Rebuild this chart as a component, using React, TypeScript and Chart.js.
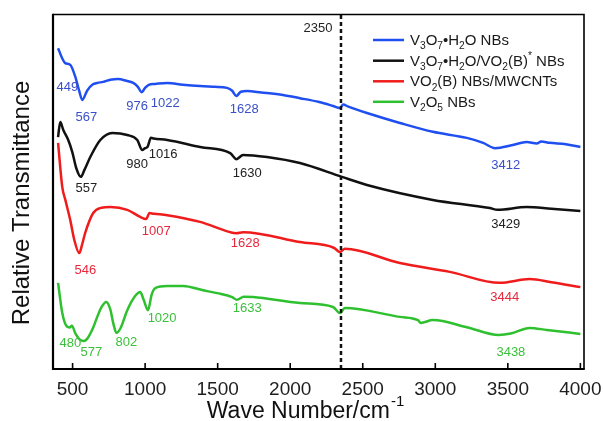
import React, { useEffect, useRef } from 'react';
import { Chart, registerables } from 'chart.js';

Chart.register(...registerables);

const FONT = '"Liberation Sans", Arial, Helvetica, sans-serif';

// Wavenumber axis (cm^-1)
const xTickValues = [500, 1000, 1500, 2000, 2500, 3000, 3500, 4000];
const xMin = 365;
const xMax = 4025;
const co2Band = 2350;

// Series colours: line and annotation text
const seriesColors = ['#1f4ff0', '#111111', '#f01c1c', '#2ec02e'];
const labelColors = ['#3a50c8', '#222222', '#e8283c', '#3cc03c'];

// Spectra as [wavenumber, relative transmittance (offset, a.u.)]
const v3o7Spectrum: [number, number][] = [
  [400, 90.5], [430, 87.5], [449, 86.3], [484, 85.8], [519, 82.4], [545, 78.5], [567, 75.9],
  [600, 78.5], [640, 80.3], [670, 80.7], [711, 81.0], [760, 81.6], [815, 81.8], [870, 81.3],
  [918, 80.7], [950, 79.6], [976, 78.1], [1000, 79.3], [1022, 80.1], [1070, 80.4], [1152, 80.7],
  [1260, 80.2], [1379, 79.8], [1480, 79.6], [1565, 79.3], [1600, 78.5], [1628, 77.0], [1660, 78.2],
  [1703, 78.4], [1800, 78.0], [1950, 77.3], [2067, 76.4], [2200, 75.3], [2295, 74.2], [2343, 73.6],
  [2365, 74.6], [2400, 74.0], [2529, 72.2], [2756, 69.4], [2983, 66.9], [3217, 65.2], [3330, 63.8],
  [3412, 62.3], [3534, 63.2], [3630, 64.0], [3700, 63.6], [3730, 64.2], [3788, 63.8], [3900, 63.4],
  [4000, 62.6],
];

const v3o7Vo2Spectrum: [number, number][] = [
  [400, 65.4], [415, 69.7], [436, 67.4], [470, 64.6], [498, 61.2], [525, 56.7], [557, 54.2],
  [581, 56.1], [622, 59.8], [691, 64.6], [773, 66.6], [877, 66.0], [946, 64.6], [980, 61.8],
  [1000, 62.3], [1016, 62.6], [1040, 65.2], [1060, 65.0], [1152, 64.6], [1379, 62.6], [1586, 60.9],
  [1630, 59.2], [1675, 60.4], [1840, 59.8], [2067, 58.1], [2356, 54.2], [2529, 51.9], [2983, 47.7],
  [3376, 45.4], [3429, 44.9], [3630, 45.7], [3800, 45.2], [4000, 44.6],
];

const vo2CntSpectrum: [number, number][] = [
  [400, 63.8], [429, 51.3], [450, 47.7], [484, 42.0], [512, 36.4], [546, 32.7], [565, 35.0],
  [587, 38.4], [642, 44.0], [700, 45.5], [760, 45.7], [877, 44.9], [966, 42.9], [1007, 42.3],
  [1030, 44.0], [1060, 43.8], [1152, 43.4], [1379, 41.5], [1586, 38.6], [1628, 38.3], [1675, 38.6],
  [2067, 35.8], [2300, 34.2], [2343, 33.0], [2377, 33.9], [2756, 29.9], [3100, 27.4], [3444, 24.3],
  [3651, 25.4], [3800, 24.5], [4000, 23.1],
];

const v2o5Spectrum: [number, number][] = [
  [400, 24.3], [429, 15.8], [460, 12.0], [480, 11.7], [495, 12.2], [520, 10.0], [550, 8.3],
  [577, 7.9], [600, 8.5], [640, 11.5], [670, 14.7], [700, 17.5], [732, 18.9], [760, 16.8],
  [780, 13.0], [802, 10.2], [830, 11.5], [877, 16.6], [930, 20.5], [966, 21.7], [990, 19.5],
  [1020, 16.6], [1045, 21.0], [1070, 22.8], [1152, 23.4], [1262, 23.4], [1400, 22.2], [1496, 21.4],
  [1600, 20.3], [1633, 19.5], [1680, 20.4], [1744, 20.3], [2067, 18.6], [2295, 17.5], [2343, 15.8],
  [2377, 17.2], [2756, 14.7], [2880, 13.8], [2900, 13.0], [2983, 13.8], [3217, 11.8], [3438, 9.6],
  [3520, 10.0], [3651, 11.6], [3768, 11.0], [4000, 9.9],
];

// Peak annotations: [text, wavenumber position, transmittance position]
const v3o7Peaks: [string, number, number][] = [
  ['449', 464, 79.5], ['567', 595, 71.1], ['976', 945, 74.2], ['1022', 1139, 74.8],
  ['1628', 1683, 73.3], ['3412', 3486, 57.3],
];
const v3o7Vo2Peaks: [string, number, number][] = [
  ['557', 595, 50.8], ['980', 945, 57.8], ['1016', 1124, 60.4], ['1630', 1704, 55.3],
  ['3429', 3486, 40.9],
];
const vo2CntPeaks: [string, number, number][] = [
  ['546', 588, 27.9], ['1007', 1077, 38.9], ['1628', 1690, 35.5], ['3444', 3479, 20.3],
];
const v2o5Peaks: [string, number, number][] = [
  ['480', 484, 7.1], ['577', 629, 4.8], ['802', 870, 7.6], ['1020', 1117, 14.4],
  ['1633', 1704, 17.2], ['3438', 3521, 4.8],
];

type Seg = [string, ('sub' | 'sup')?];

// Legend names with chemical subscripts
const legendNames: Seg[][] = [
  [['V'], ['3', 'sub'], ['O'], ['7', 'sub'], ['\u2022H'], ['2', 'sub'], ['O NBs']],
  [['V'], ['3', 'sub'], ['O'], ['7', 'sub'], ['\u2022H'], ['2', 'sub'], ['O/VO'], ['2', 'sub'], ['(B)'], ['*', 'sup'], [' NBs']],
  [['VO'], ['2', 'sub'], ['(B) NBs/MWCNTs']],
  [['V'], ['2', 'sub'], ['O'], ['5', 'sub'], [' NBs']],
];

const spectra = [v3o7Spectrum, v3o7Vo2Spectrum, vo2CntSpectrum, v2o5Spectrum];
const peakSets = [v3o7Peaks, v3o7Vo2Peaks, vo2CntPeaks, v2o5Peaks];

function drawRich(ctx: CanvasRenderingContext2D, segs: Seg[], x: number, baseline: number, size: number) {
  let cx = x;
  for (const [text, kind] of segs) {
    const s = kind ? size * 0.68 : size;
    const dy = kind === 'sub' ? size * 0.28 : kind === 'sup' ? -size * 0.42 : 0;
    ctx.font = `${s}px ${FONT}`;
    ctx.fillText(text, cx, baseline + dy);
    cx += ctx.measureText(text).width;
  }
}

const decorPlugin = {
  id: 'ftirDecor',
  afterDraw(chart: any) {
    const { ctx, chartArea, scales } = chart;
    const xs = scales.x;
    const ys = scales.y;
    const { left, right, top, bottom } = chartArea;
    ctx.save();

    // peak labels
    ctx.textAlign = 'center';
    ctx.textBaseline = 'middle';
    ctx.font = `13px ${FONT}`;
    peakSets.forEach((peaks, i) => {
      ctx.fillStyle = labelColors[i];
      for (const [t, wx, wy] of peaks) {
        ctx.fillText(t, xs.getPixelForValue(wx), ys.getPixelForValue(wy));
      }
    });
    ctx.fillStyle = '#222';
    ctx.fillText(String(co2Band), xs.getPixelForValue(2191), ys.getPixelForValue(96.2));

    // legend
    const lx0 = 373;
    const lx1 = 404;
    const rowY = [40, 60.7, 81.3, 101.8];
    legendNames.forEach((segs, i) => {
      ctx.strokeStyle = seriesColors[i];
      ctx.lineWidth = 2.5;
      ctx.beginPath();
      ctx.moveTo(lx0, rowY[i]);
      ctx.lineTo(lx1, rowY[i]);
      ctx.stroke();
      ctx.fillStyle = '#1a1a1a';
      ctx.textAlign = 'left';
      ctx.textBaseline = 'alphabetic';
      drawRich(ctx, segs, 410, rowY[i] + 5, 15);
    });

    // frame
    ctx.strokeStyle = '#000';
    ctx.lineWidth = 1.6;
    ctx.beginPath();
    ctx.moveTo(left, top);
    ctx.lineTo(right, top);
    ctx.lineTo(right, bottom);
    ctx.stroke();
    ctx.lineWidth = 2.2;
    ctx.beginPath();
    ctx.moveTo(left, top - 0.8);
    ctx.lineTo(left, bottom);
    ctx.lineTo(right + 0.8, bottom);
    ctx.stroke();

    // inward ticks on the wavenumber axis
    ctx.lineWidth = 1.6;
    for (const v of xTickValues) {
      const px = xs.getPixelForValue(v);
      ctx.beginPath();
      ctx.moveTo(px, bottom);
      ctx.lineTo(px, bottom - 6);
      ctx.stroke();
    }

    // axis titles
    ctx.fillStyle = '#111';
    ctx.textAlign = 'left';
    ctx.textBaseline = 'alphabetic';
    ctx.font = `23px ${FONT}`;
    const main = 'Wave Number/cm';
    const mw = ctx.measureText(main).width;
    ctx.font = `15px ${FONT}`;
    const sw = ctx.measureText('-1').width;
    const tx = 305 - (mw + sw) / 2;
    ctx.font = `23px ${FONT}`;
    ctx.fillText(main, tx, 418);
    ctx.font = `15px ${FONT}`;
    ctx.fillText('-1', tx + mw + 1, 406);

    ctx.save();
    ctx.translate(29, 203);
    ctx.rotate(-Math.PI / 2);
    ctx.textAlign = 'center';
    ctx.font = `24px ${FONT}`;
    ctx.fillText('Relative Transmittance', 0, 0);
    ctx.restore();

    ctx.restore();
  },
};

export default function App() {
  const canvasRef = useRef<HTMLCanvasElement | null>(null);

  useEffect(() => {
    document.body.style.margin = '0';
    const canvas = canvasRef.current;
    if (!canvas) return;

    const datasets: any[] = [
      {
        data: [{ x: co2Band, y: 0 }, { x: co2Band, y: 100 }],
        borderColor: '#111',
        borderWidth: 2.5,
        borderDash: [4, 3],
        pointRadius: 0,
      },
      ...spectra.map((s, i) => ({
        data: s.map(([x, y]) => ({ x, y })),
        borderColor: seriesColors[i],
        borderWidth: 2.5,
        pointRadius: 0,
        cubicInterpolationMode: 'monotone',
      })),
    ];

    const chart = new Chart(canvas, {
      type: 'line',
      data: { datasets },
      options: {
        responsive: false,
        animation: false,
        devicePixelRatio: 1,
        layout: { padding: { left: 53, right: 19, top: 14.5, bottom: 0 } },
        plugins: { legend: { display: false }, tooltip: { enabled: false } },
        scales: {
          x: {
            type: 'linear',
            min: xMin,
            max: xMax,
            grid: { display: false, drawTicks: false },
            border: { display: false },
            ticks: {
              font: { family: FONT, size: 19 },
              color: '#1e1e1e',
              padding: 9,
              maxRotation: 0,
              callback: (v: any) => String(v),
            },
            afterBuildTicks: (scale: any) => {
              scale.ticks = xTickValues.map((value) => ({ value }));
            },
            afterFit: (scale: any) => {
              scale.height = 52;
              scale.paddingLeft = 0;
              scale.paddingRight = 0;
            },
          },
          y: { display: false, min: 0, max: 100 },
        },
      },
      plugins: [decorPlugin],
    } as any);

    return () => chart.destroy();
  }, []);

  return (
    <div style={{ width: 603, height: 421, background: '#fff' }}>
      <canvas ref={canvasRef} width={603} height={421} />
    </div>
  );
}
